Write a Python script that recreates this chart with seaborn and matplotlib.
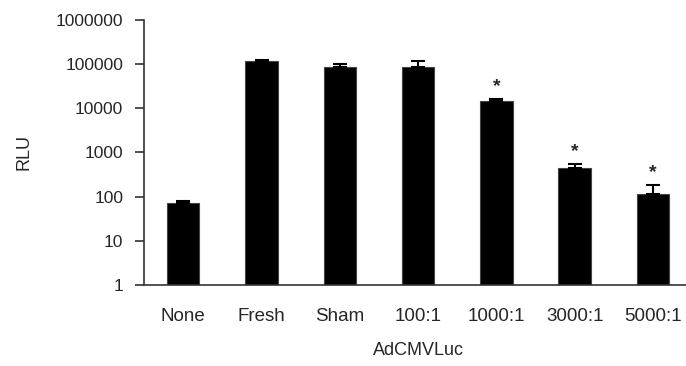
import numpy as np
import pandas as pd
import seaborn as sns
from matplotlib import pyplot as plt
from matplotlib.ticker import FixedLocator, FuncFormatter

# values (log scale, RLU)
groups = ["None", "Fresh", "Sham", "100:1", "1000:1", "3000:1", "5000:1"]
rlu = [73, 118000, 87000, 87000, 14500, 440, 116]
rlu_upper = [78, 121000, 101000, 115000, 16300, 540, 180]
significant = [False, False, False, False, True, True, True]

df = pd.DataFrame({"group": groups, "RLU": rlu})

sns.set_style("white")
plt.rcParams["font.family"] = ["Liberation Sans", "DejaVu Sans"]
plt.rcParams["font.size"] = 13

fig = plt.figure(figsize=(6.86, 3.66), dpi=100)
ax = fig.add_axes([0.21, 0.2213, 0.799, 0.7241])
ax.set_yscale("log")

sns.barplot(
    data=df,
    x="group",
    y="RLU",
    color="black",
    edgecolor="#444444",
    linewidth=0.8,
    width=0.415,
    errorbar=None,
    ax=ax,
)

x = np.arange(len(groups))
vals = np.array(rlu, dtype=float)
upper = np.array(rlu_upper, dtype=float) - vals
ax.errorbar(
    x, vals, yerr=[np.zeros_like(vals), upper],
    fmt="none", ecolor="black", elinewidth=1.5, capsize=5, capthick=1.5,
)

for xi, top, star in zip(x, rlu_upper, significant):
    if star:
        ax.annotate("*", (xi, top), xytext=(0, 3), textcoords="offset points",
                    ha="center", va="bottom", fontsize=14, fontweight="bold")

ax.set_ylim(1, 1e6)
ax.set_xlim(-0.5, len(groups) - 0.5)
ax.yaxis.set_major_locator(FixedLocator([10.0 ** k for k in range(7)]))
ax.yaxis.set_minor_locator(FixedLocator([]))
ax.yaxis.set_major_formatter(FuncFormatter(lambda v, p: f"{int(round(v))}"))
ax.xaxis.set_minor_locator(FixedLocator(np.arange(len(groups) + 1) - 0.5))

ax.tick_params(axis="x", which="major", length=0, pad=16.5, labelsize=13.5)
ax.tick_params(axis="x", which="minor", length=6.5, width=1.2, color="#333333", direction="out")
ax.tick_params(axis="y", which="major", length=6.5, width=1.2, color="#333333",
               direction="out", pad=8.5, left=True, labelsize=12.5)

for side in ["top", "right"]:
    ax.spines[side].set_visible(False)
for side in ["left", "bottom"]:
    ax.spines[side].set_color("#333333")
    ax.spines[side].set_linewidth(1.2)

ax.set_xlabel("AdCMVLuc", labelpad=12)
ax.set_ylabel("RLU", labelpad=17)

fig.savefig("out.png", dpi=100)
